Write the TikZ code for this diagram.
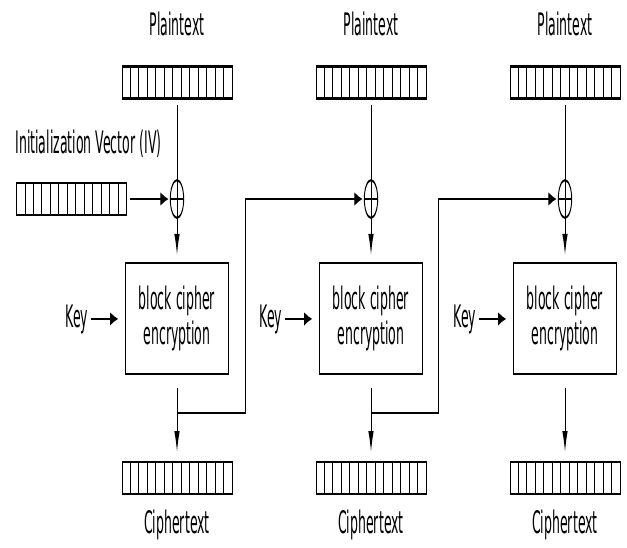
\documentclass[tikz,border=0pt]{standalone}
\usepackage{fontspec}
\setmainfont{DejaVu Sans}
\usetikzlibrary{arrows.meta,shapes.geometric,calc}
\newcommand\mkregister[3]{%
  \node[reg] (#1) at (#2,#3) {};
  \foreach \i in {1,...,12}
    \draw[line width=0.9pt] ($(#1.north west)!\i/13!(#1.north east)$) -- ($(#1.south west)!\i/13!(#1.south east)$);
}
\begin{document}
\begin{tikzpicture}[line width=1pt]
\useasboundingbox (0,0) rectangle (627pt,-547pt);
\begin{scope}[transform canvas={yscale=2.48}, x=1pt, y=-0.403226pt,
  lbl/.style={inner sep=0pt, font=\fontsize{12.5}{14.2}\selectfont},
  reg/.style={draw, rectangle, minimum width=110pt, minimum height=12.9pt, inner sep=0pt, outer sep=0pt},
  cbox/.style={draw, rectangle, minimum width=103pt, minimum height=44.8pt, align=center, inner sep=0pt, outer sep=0pt, font=\fontsize{12.5}{14.2}\selectfont},
  xorn/.style={draw, ellipse, minimum width=13.4pt, minimum height=15.2pt, inner sep=0pt, outer sep=0pt, line width=0.9pt},
  arr/.style={-{Latex[length=8.5pt,width=5.5pt]}}]

  % IV
  \node[lbl, anchor=base west] (ivl) at (15,153) {Initialization Vector (IV)};
  \mkregister{iv}{71.5}{199}

  \foreach \c/\x in {1/177, 2/371, 3/565} {
    \node[lbl, anchor=base] (pl\c) at (\x,35) {Plaintext};
    \mkregister{p\c}{\x}{82.5}
    \node[xorn] (x\c) at (\x,199) {};
    \draw[line width=0.9pt] (x\c.north) -- (x\c.south) (x\c.west) -- (x\c.east);
    \draw[shorten <=2.8pt] (p\c.south) -- (x\c.north);
    \node[cbox] (b\c) at (\x,318.5) {block cipher\\encryption};
    \draw[arr, shorten >=3.2pt] (x\c.south) -- (b\c.north);
    \node[lbl, anchor=base] (k\c) at (\x-100,327) {Key};
    \draw[arr, shorten <=2.5pt, shorten >=7pt] (k\c.east) -- (k\c.east -| b\c.west);
    \mkregister{c\c}{\x}{478}
    \coordinate (j\c) at (\x,413);
    \draw[arr, shorten <=5.6pt, shorten >=4pt] (b\c.south) -- (c\c.north);
    \node[lbl, anchor=base] (cl\c) at (\x,533) {Ciphertext};
  }

  \draw[arr, shorten <=3pt, shorten >=1.5pt] (iv.east) -- (x1.west);
  \draw[arr, shorten >=1.5pt] (j1) -- ++(68,0) |- (x2.west);
  \draw[arr, shorten >=1.5pt] (j2) -- ++(67,0) |- (x3.west);
\end{scope}
\end{tikzpicture}
\end{document}
